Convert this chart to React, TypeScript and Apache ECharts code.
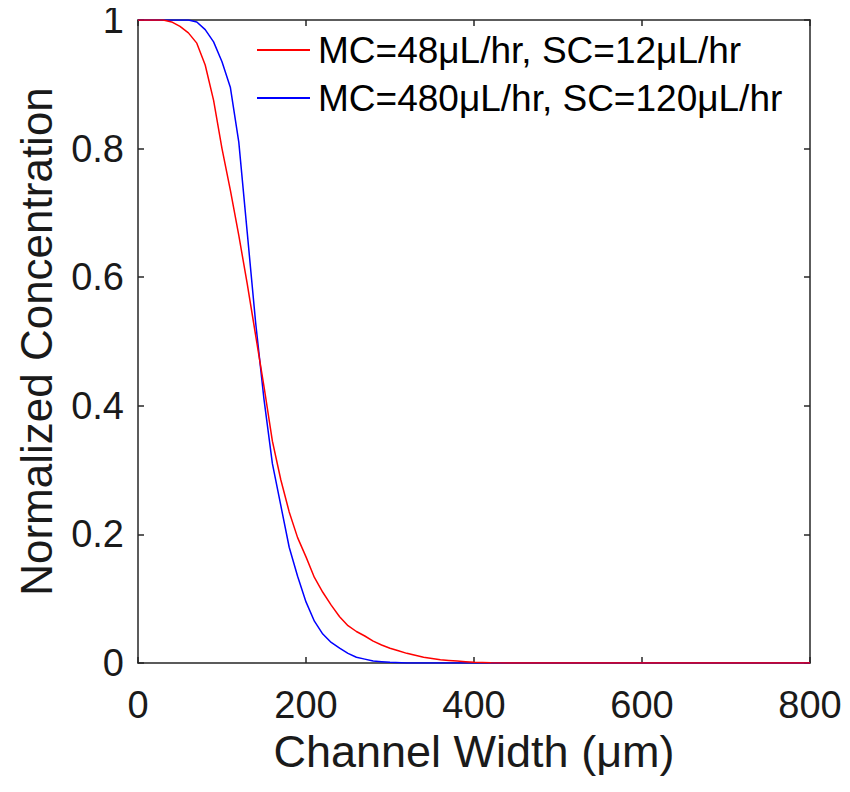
import React, { useEffect, useRef } from "react";
import * as echarts from "echarts";

const seriesNames = ["MC=48μL/hr, SC=12μL/hr", "MC=480μL/hr, SC=120μL/hr"];
const seriesColors = ["#ff0000", "#0000ff"];

const redX = [0, 10, 20, 30, 40, 50, 60, 70, 80, 90, 100, 110, 120, 130, 140, 150, 160, 170, 180, 190, 200, 210, 220, 230, 240, 250, 260, 270, 280, 290, 300, 310, 320, 330, 340, 350, 360, 370, 380, 390, 400, 420, 450, 800];
const redY = [1, 1, 1, 1, 0.997, 0.99, 0.98, 0.964, 0.93, 0.875, 0.8, 0.735, 0.665, 0.59, 0.51, 0.43, 0.345, 0.285, 0.235, 0.195, 0.165, 0.133, 0.11, 0.09, 0.072, 0.058, 0.049, 0.042, 0.034, 0.028, 0.023, 0.019, 0.015, 0.012, 0.009, 0.007, 0.005, 0.004, 0.003, 0.002, 0.001, 0.0005, 0, 0];

const blueX = [0, 10, 20, 30, 40, 50, 60, 70, 80, 90, 100, 110, 120, 130, 140, 150, 160, 170, 180, 190, 200, 210, 220, 230, 240, 250, 260, 270, 280, 290, 300, 320, 800];
const blueY = [1, 1, 1, 1, 1, 1, 1, 0.997, 0.985, 0.966, 0.935, 0.895, 0.81, 0.67, 0.53, 0.41, 0.31, 0.245, 0.18, 0.135, 0.095, 0.065, 0.045, 0.032, 0.023, 0.015, 0.009, 0.006, 0.003, 0.002, 0.001, 0, 0];

const xTicks = [0, 200, 400, 600, 800];
const yTicks = [0, 0.2, 0.4, 0.6, 0.8, 1];

const xTitle = "Channel Width (μm)";
const yTitle = "Normalized Concentration";

const FONT = "Liberation Sans, Arial, sans-serif";
const AXIS_COLOR = "#262626";

export default function App() {
  const ref = useRef<HTMLDivElement>(null);
  useEffect(() => {
    if (!ref.current) return;
    const chart = echarts.init(ref.current, undefined, { renderer: "svg" });
    const pairs = (xs: number[], ys: number[]) => xs.map((x, i) => [x, ys[i]]);
    const axisLine = { show: true, onZero: false, lineStyle: { color: AXIS_COLOR, width: 1.5 } };
    const axisTick = { show: true, inside: true, length: 6, lineStyle: { color: AXIS_COLOR, width: 1.5 } };
    chart.setOption({
      animation: false,
      backgroundColor: "#ffffff",
      textStyle: { fontFamily: FONT },
      grid: { left: 138, right: 40, top: 20, bottom: 129, containLabel: false, outerBoundsMode: "none" },
      legend: {
        show: true,
        orient: "vertical",
        left: 257,
        top: 26,
        padding: 0,
        itemGap: 0,
        itemWidth: 53,
        itemHeight: 2,
        icon: "rect",
        data: seriesNames,
        textStyle: { fontSize: 37, color: "#000", fontFamily: FONT, lineHeight: 48, padding: [0, 0, 0, 3] },
      },
      xAxis: [
        {
          type: "value",
          min: 0,
          max: 800,
          interval: 200,
          position: "bottom",
          name: xTitle,
          nameLocation: "middle",
          nameGap: 46,
          nameTextStyle: { fontSize: 45, color: "#1a1a1a", fontFamily: FONT },
          axisLine,
          axisTick,
          splitLine: { show: false },
          axisLabel: {
            fontSize: 38,
            color: "#1a1a1a",
            margin: 23,
            fontFamily: FONT,
            formatter: (v: number) => (xTicks.includes(v) ? String(v) : ""),
          },
        },
        {
          type: "value",
          min: 0,
          max: 800,
          interval: 200,
          position: "top",
          axisLine,
          axisTick,
          splitLine: { show: false },
          axisLabel: { show: false },
        },
      ],
      yAxis: [
        {
          type: "value",
          min: 0,
          max: 1,
          interval: 0.2,
          position: "left",
          name: yTitle,
          nameLocation: "middle",
          nameGap: 80,
          nameTextStyle: { fontSize: 44, color: "#1a1a1a", fontFamily: FONT },
          axisLine,
          axisTick,
          splitLine: { show: false },
          axisLabel: {
            fontSize: 38,
            color: "#1a1a1a",
            margin: 14,
            fontFamily: FONT,
            formatter: (v: number) => {
              const t = yTicks.find((y) => Math.abs(y - v) < 1e-9);
              return t === undefined ? "" : String(Number(t.toFixed(1)));
            },
          },
        },
        {
          type: "value",
          min: 0,
          max: 1,
          interval: 0.2,
          position: "right",
          axisLine,
          axisTick,
          splitLine: { show: false },
          axisLabel: { show: false },
        },
      ],
      series: [
        {
          name: seriesNames[0],
          type: "line",
          data: pairs(redX, redY),
          symbol: "none",
          smooth: false,
          lineStyle: { color: seriesColors[0], width: 1.5 },
          itemStyle: { color: seriesColors[0] },
          z: 3,
        },
        {
          name: seriesNames[1],
          type: "line",
          data: pairs(blueX, blueY),
          symbol: "none",
          smooth: false,
          lineStyle: { color: seriesColors[1], width: 1.5 },
          itemStyle: { color: seriesColors[1] },
          z: 2,
        },
      ],
    });
    return () => chart.dispose();
  }, []);
  return <div ref={ref} style={{ width: 850, height: 792, margin: -8 }} />;
}
